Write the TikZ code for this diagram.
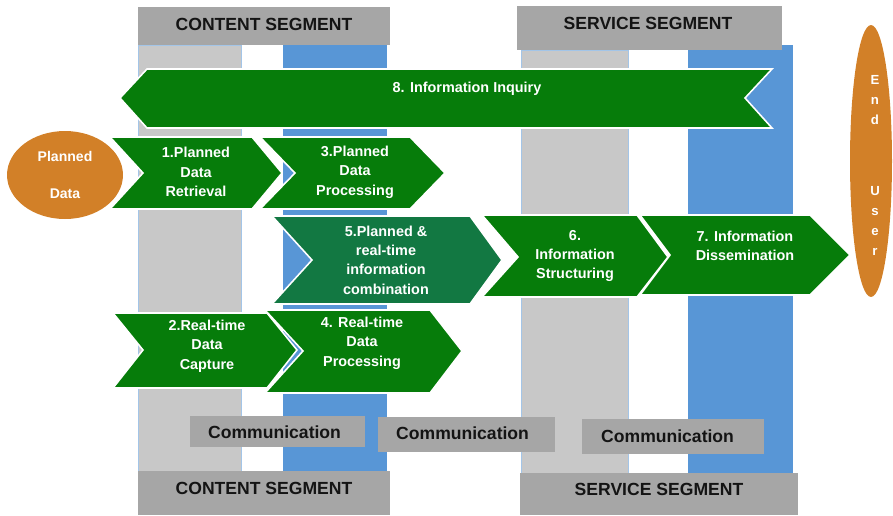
\documentclass[tikz,border=0pt]{standalone}
\usepackage{fontspec}
\setmainfont{Liberation Sans}
\usetikzlibrary{shapes.geometric}
\definecolor{arrowgreen}{RGB}{6,124,10}
\definecolor{mixgreen}{RGB}{18,120,66}
\definecolor{colgray}{RGB}{200,200,200}
\definecolor{hdrgray}{RGB}{166,166,166}
\definecolor{colblue}{RGB}{88,150,214}
\definecolor{ochre}{RGB}{210,128,40}
\tikzset{
  chev/.style={
    fill=arrowgreen,
    draw=white,
    line width=0.9pt,
    line join=miter
  },
  chevtext/.style={
    text=white,
    font=\bfseries\fontsize{8.2}{11}\selectfont,
    align=center,
    inner sep=0pt
  },
  header/.style={fill=hdrgray},
  headertext/.style={
    font=\bfseries\fontsize{10}{12}\selectfont,
    text=black!92
  },
  column/.style={
    fill=colgray,
    draw=colblue!55,
    line width=0.4pt
  },
  bluecolumn/.style={fill=colblue},
  blob/.style={
    shape=ellipse,
    fill=ochre,
    inner sep=0pt,
    text=white,
    align=center,
    font=\bfseries\fontsize{8}{11}\selectfont
  }
}

\begin{document}
\begin{tikzpicture}[x=0.02cm,y=-0.02cm]
    \useasboundingbox (0,0) rectangle (893,515);
    % columns of the two segments
    \draw[column] (138,45) rectangle (241,472);
    \fill[bluecolumn] (283,45) rectangle (387,472);
    \draw[column] (521,50) rectangle (628,473);
    \fill[bluecolumn] (688,45) rectangle (793,473);
    % headers
    \fill[header] (138,7) rectangle (390,45);
    \node[headertext] (ctop) at (264,24) {CONTENT SEGMENT};
    \fill[header] (517,6) rectangle (782,50);
    \node[headertext] (stop) at (648,23) {SERVICE SEGMENT};
    \fill[header] (138,471) rectangle (390,515);
    \node[headertext] (cbot) at (264,488) {CONTENT SEGMENT};
    \fill[header] (520,473) rectangle (798,515);
    \node[headertext] (sbot) at (659,489) {SERVICE SEGMENT};
    % communication boxes
    \fill[header] (190,416) rectangle (365,447);
    \node[headertext,anchor=west] (com1) at (202,432) {Communication};
    \fill[header] (378,417) rectangle (555,452);
    \node[headertext,anchor=west] (com2) at (390,433) {Communication};
    \fill[header] (582,419) rectangle (764,454);
    \node[headertext,anchor=west] (com3) at (595,436) {Communication};
    % 8: inquiry, pointing back
    \draw[chev] (120,98) -- (147,69) -- (772,69) -- (745,98) -- (772,128) -- (147,128) -- cycle;
    \node[chevtext] (a8) at (467,89) {8. Information Inquiry};
    % planned chain
    \draw[chev] (110,137) -- (252,137) -- (282,173) -- (252,209) -- (110,209) -- (143,173) -- cycle;
    \node[chevtext] (a1) at (196,172) {1.Planned\\Data\\Retrieval};
    \draw[chev] (260,137) -- (410,137) -- (445,173) -- (410,209) -- (260,209) -- (295,173) -- cycle;
    \node[chevtext] (a3) at (355,172) {3.Planned\\Data\\Processing};
    % real-time chain
    \draw[chev] (113,313) -- (267,313) -- (297,350) -- (267,388) -- (113,388) -- (143,350) -- cycle;
    \node[chevtext] (a2) at (207,346) {2.Real-time\\Data\\Capture};
    \draw[chev] (265,310) -- (430,310) -- (462,351) -- (430,393) -- (265,393) -- (303,351) -- cycle;
    \node[chevtext] (a4) at (362,343) {4. Real-time\\Data\\Processing};
    % combination and service side
    \draw[chev,fill=mixgreen] (272,216) -- (470,216) -- (502,260) -- (470,304) -- (272,304) -- (312,260) -- cycle;
    \node[chevtext] (a5) at (386,260) {5.Planned \&\\real-time\\information\\combination};
    \draw[chev] (482,215) -- (637,215) -- (668,257) -- (637,297) -- (482,297) -- (518,257) -- cycle;
    \node[chevtext] (a6) at (575,256) {6.\\Information\\Structuring};
    \draw[chev] (640,215) -- (810,215) -- (850,255) -- (810,295) -- (640,295) -- (670,255) -- cycle;
    \node[chevtext] (a7) at (745,246) {7. Information\\Dissemination};
    % sources and sink
    \node[blob,minimum width=2.32cm,minimum height=1.76cm] (pd) at (65,175) {Planned\\[10pt]Data};
    \node[blob,minimum width=0.84cm,minimum height=5.44cm] (eu) at (871,161) {};
    \node[chevtext,font=\bfseries\fontsize{7.5}{11.5}\selectfont] (eu1) at (875,100) {E\\n\\d};
    \node[chevtext,font=\bfseries\fontsize{7.5}{11.5}\selectfont] (eu2) at (875,221) {U\\s\\e\\r};
\end{tikzpicture}
\end{document}
